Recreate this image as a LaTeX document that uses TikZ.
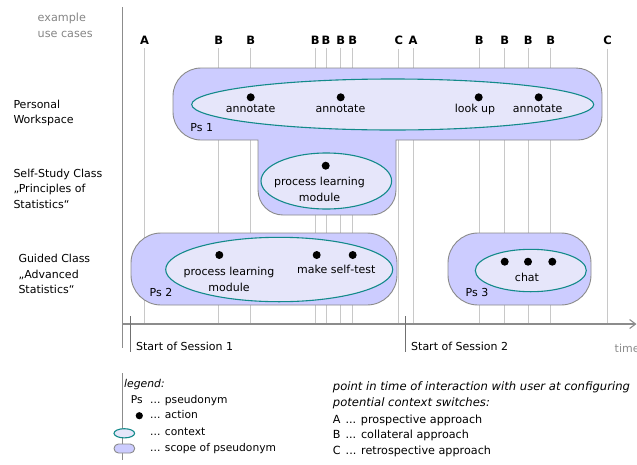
\documentclass[tikz,border=0pt]{standalone}
\usepackage{fontspec}
\setmainfont{DejaVu Sans}
\usetikzlibrary{arrows.meta}
\definecolor{psfill}{HTML}{CCCCFF}
\definecolor{psdraw}{HTML}{8A8A8A}
\definecolor{ctxfill}{HTML}{E6E6FA}
\definecolor{ctxdraw}{HTML}{138A8A}
\definecolor{evcol}{HTML}{C8C8C8}
\definecolor{axgray}{HTML}{8C8C8C}
\definecolor{hdgray}{HTML}{858585}
\begin{document}
\begin{tikzpicture}[x=1pt,y=-1pt,
  every node/.style={inner sep=0pt, font=\fontsize{11}{15.5}\selectfont},
  txt/.style={text height=8pt, text depth=2.4pt},
  evlabel/.style={font=\fontsize{11.5}{12}\selectfont\bfseries},
  evl/.style={draw=evcol, line width=1pt, shorten <=4pt},
  ps/.style={fill=psfill, draw=psdraw, line width=0.9pt},
  ctx/.style={fill=ctxfill, draw=ctxdraw, line width=1.1pt},
  act/.style={fill=black, draw=none},
  axis/.style={draw=axgray, line width=1.1pt},
  tick/.style={draw=axgray!80!black, line width=1pt},
  lgd/.style={font=\fontsize{10.7}{15.5}\selectfont},
  rlgd/.style={font=\fontsize{11.2}{16}\selectfont},
  rlgdi/.style={font=\fontsize{11.6}{16}\selectfont\itshape},
]
\useasboundingbox (0,0) rectangle (637,464);

% axes
\coordinate (vtop) at (122.7,7);
\coordinate (vbot) at (122.7,348);
\coordinate (axL) at (122.7,324);
\coordinate (axR) at (636.5,324);

% event lines with letters
\foreach \n/\l/\x in {a1/A/144.5, b1/B/218.7, b2/B/250.7, b3/B/315.3, b4/B/326, b5/B/340.7, b6/B/352.7, c1/C/398.8, a2/A/413, b7/B/479.3, b8/B/504.7, b9/B/528.3, b10/B/550.7, c2/C/607.7}{
  \node[evlabel] (\n) at (\x,40) {\l};
  \draw[evl] (\n.south) -- (\n.south |- axL);
}

\draw[axis] (vtop) -- (vbot);
\draw[axis, -{Straight Barb[length=6pt,width=9pt]}] (axL) -- (axR);

% session starts
\coordinate (s1t) at (130.7,316);
\coordinate (s1b) at (130.7,352);
\coordinate (s2t) at (405,316);
\coordinate (s2b) at (405,352);
\draw[tick] (s1t) -- (s1b);
\draw[tick] (s2t) -- (s2b);
\node[txt, anchor=west] (ss1) at (136,348) {Start of Session 1};
\node[txt, anchor=west] (ss2) at (411,348) {Start of Session 2};
\node[txt, anchor=west, text=axgray] (time) at (614.5,350) {time};

% left header and row labels
\node[anchor=west, align=left, text=hdgray, font=\fontsize{11.2}{16.3}\selectfont] (hdr) at (37.5,25) {example\\use cases};
\node[anchor=west, align=left] (r1) at (13.3,113.2) {Personal\\Workspace};
\node[anchor=west, align=left] (r2) at (13.3,188.4) {Self‑Study Class\\„Principles of\\Statistics“};
\node[anchor=west, align=left] (r3) at (18.3,274.3) {Guided Class\\„Advanced\\Statistics“};

% scope Ps 1
\path[ps] (201,68) -- (576,68) arc[start angle=270,end angle=360,radius=26]
  -- (602,116) arc[start angle=0,end angle=90,radius=24]
  -- (396,140) -- (396,190) arc[start angle=0,end angle=90,radius=25]
  -- (283,215) arc[start angle=90,end angle=180,radius=25]
  -- (258,140) -- (201,140) arc[start angle=90,end angle=180,radius=28]
  -- (173,96) arc[start angle=180,end angle=270,radius=28] -- cycle;
% scope Ps 2, Ps 3
\path[ps, rounded corners=30pt] (131,233) rectangle (397,305);
\path[ps, rounded corners=30pt] (448,233) rectangle (591,305);

% contexts
\path[ctx] (392.7,104.5) ellipse [x radius=201, y radius=25.5];
\path[ctx] (326.3,181) ellipse [x radius=65.3, y radius=28];
\path[ctx] (279.2,269.5) ellipse [x radius=113.5, y radius=32.2];
\path[ctx] (530.8,270.5) ellipse [x radius=55.5, y radius=21.2];

% actions
\foreach \x/\y in {250.7/97.3, 340.7/97.3, 478.7/97.3, 538.7/97.3, 325.7/165.7, 219.3/255, 316.7/255, 352.7/255, 504.7/261.7, 528/261.7, 552.3/261.7}{
  \fill[act] (\x,\y) circle [radius=4];
}

% action labels
\node[txt] (t1) at (250.7,110) {annotate};
\node[txt] (t2) at (340.5,110) {annotate};
\node[txt] (t3) at (475,110) {look up};
\node[txt] (t4) at (537.7,110) {annotate};
\node[align=center] (t5) at (319.5,189.5) {process learning\\module};
\node[align=center] (t6) at (229,279.2) {process learning\\module};
\node[txt] (t7) at (336.3,270.7) {make self‑test};
\node[txt] (t8) at (527,279) {chat};

% pseudonym labels
\node[txt] (p1) at (201.7,129) {Ps 1};
\node[txt] (p2) at (161,294) {Ps 2};
\node[txt] (p3) at (477,294) {Ps 3};

% legend
\coordinate (lgt) at (122.7,373);
\coordinate (lgb) at (122.7,460);
\draw[axis] (lgt) -- (lgb);
\node[txt, anchor=west, font=\fontsize{10.8}{12}\selectfont\itshape] (lg0) at (124,385) {legend:};
\node[lgd, txt] (lg1s) at (136.7,401) {Ps};
\node[lgd, txt, anchor=west] (lg1) at (150,401) {... pseudonym};
\fill[act] (139.3,415.7) circle [radius=3.6];
\node[lgd, txt, anchor=west] (lg2) at (150,416) {... action};
\path[ctx] (124.3,433.3) ellipse [x radius=10.3, y radius=4.6];
\node[lgd, txt, anchor=west] (lg3) at (150,433) {... context};
\path[ps, rounded corners=4.5pt] (114,444) rectangle (134.7,453);
\node[lgd, txt, anchor=west] (lg4) at (150,448.3) {... scope of pseudonym};

\node[rlgdi, txt, anchor=west] (rl0) at (332.7,388) {point in time of interaction with user at configuring};
\node[rlgdi, txt, anchor=west] (rl1) at (332.7,404) {potential context switches:};
\node[rlgd, txt, anchor=west] (rl2) at (332.7,420.5) {A\hspace{5pt}... prospective approach};
\node[rlgd, txt, anchor=west] (rl3) at (332.7,436) {B\hspace{5pt}... collateral approach};
\node[rlgd, txt, anchor=west] (rl4) at (332.7,452) {C\hspace{5pt}... retrospective approach};
\end{tikzpicture}
\end{document}
